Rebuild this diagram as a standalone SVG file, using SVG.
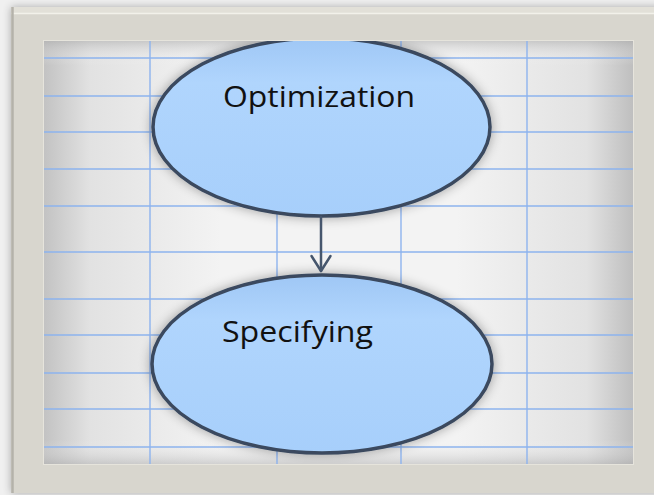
<svg xmlns="http://www.w3.org/2000/svg" width="654" height="495" viewBox="0 0 654 495">
  <style>
    .grid line { stroke: #8db3ee; stroke-width: 1.4; }
    .node ellipse { stroke: #3a495e; stroke-width: 3.5; fill: url(#nodeFill); filter: url(#halo); }
    .node text { font-family: "Open Sans", "Liberation Sans", sans-serif; font-size: 30px; fill: #111; }
    .conn { stroke: #46566d; stroke-width: 2.5; fill: none; stroke-linecap: round; stroke-linejoin: round; }
  </style>
  <defs>
    <linearGradient id="paperH" x1="0" y1="0" x2="1" y2="0">
      <stop offset="0" stop-color="#c2c2c2"/>
      <stop offset="0.08" stop-color="#e2e2e2"/>
      <stop offset="0.3" stop-color="#f3f3f3"/>
      <stop offset="0.7" stop-color="#f3f3f3"/>
      <stop offset="0.92" stop-color="#e2e2e2"/>
      <stop offset="1" stop-color="#bebebe"/>
    </linearGradient>
    <linearGradient id="paperV" x1="0" y1="0" x2="0" y2="1">
      <stop offset="0" stop-color="#a8a8a8" stop-opacity="0.55"/>
      <stop offset="0.06" stop-color="#ffffff" stop-opacity="0"/>
      <stop offset="0.94" stop-color="#ffffff" stop-opacity="0"/>
      <stop offset="1" stop-color="#a8a8a8" stop-opacity="0.5"/>
    </linearGradient>
    <linearGradient id="nodeFill" x1="0" y1="0" x2="0" y2="1">
      <stop offset="0" stop-color="#9fc7f5"/>
      <stop offset="0.25" stop-color="#b0d5fd"/>
      <stop offset="1" stop-color="#a7cffb"/>
    </linearGradient>
    <linearGradient id="outside" x1="0" y1="0" x2="1" y2="0">
      <stop offset="0" stop-color="#f2f2f2"/>
      <stop offset="1" stop-color="#dcdcdc"/>
    </linearGradient>
    <filter id="halo" x="-20%" y="-30%" width="140%" height="160%">
      <feGaussianBlur in="SourceAlpha" stdDeviation="6"/>
      <feComponentTransfer><feFuncA type="linear" slope="0.35"/></feComponentTransfer>
      <feMerge><feMergeNode/><feMergeNode in="SourceGraphic"/></feMerge>
    </filter>
    <filter id="frameShadow" x="-5%" y="-5%" width="110%" height="110%">
      <feGaussianBlur in="SourceAlpha" stdDeviation="4"/>
      <feComponentTransfer><feFuncA type="linear" slope="0.3"/></feComponentTransfer>
      <feMerge><feMergeNode/><feMergeNode in="SourceGraphic"/></feMerge>
    </filter>
    <clipPath id="paperClip"><rect x="43" y="40" width="591" height="425"/></clipPath>
  </defs>

  <!-- backdrop -->
  <rect x="0" y="0" width="654" height="495" fill="#f0f0f0"/>

  <!-- mat frame -->
  <g id="frame" filter="url(#frameShadow)">
    <rect x="11" y="7" width="650" height="486" fill="#d8d6ce"/>
    <rect x="11" y="7" width="650" height="6" fill="#e2e0d8"/>
    <line x1="11" y1="13.5" x2="654" y2="13.5" stroke="#f2f1ea" stroke-width="1.5"/>
    <line x1="12.5" y1="7" x2="12.5" y2="493" stroke="#b4b2aa" stroke-width="2.5"/>
  </g>

  <!-- paper with grid -->
  <g id="paper" clip-path="url(#paperClip)">
    <rect x="43" y="40" width="591" height="425" fill="url(#paperH)"/>
    <rect x="43" y="40" width="591" height="425" fill="url(#paperV)"/>
    <g class="grid">
      <line x1="43" y1="58" x2="634" y2="58"/>
      <line x1="43" y1="96" x2="634" y2="96"/>
      <line x1="43" y1="132" x2="634" y2="132"/>
      <line x1="43" y1="169" x2="634" y2="169"/>
      <line x1="43" y1="206" x2="634" y2="206"/>
      <line x1="43" y1="252" x2="634" y2="252"/>
      <line x1="43" y1="299" x2="634" y2="299"/>
      <line x1="43" y1="335" x2="634" y2="335"/>
      <line x1="43" y1="373" x2="634" y2="373"/>
      <line x1="43" y1="409" x2="634" y2="409"/>
      <line x1="43" y1="447" x2="634" y2="447"/>
      <line x1="150" y1="40" x2="150" y2="465"/>
      <line x1="277" y1="40" x2="277" y2="465"/>
      <line x1="401" y1="40" x2="401" y2="465"/>
      <line x1="527" y1="40" x2="527" y2="465"/>
    </g>

    <g id="node-optimization" class="node">
      <ellipse cx="321.5" cy="127" rx="168.5" ry="89"/>
      <text x="223" y="107" textLength="192" lengthAdjust="spacingAndGlyphs">Optimization</text>
    </g>

    <g id="node-specifying" class="node">
      <ellipse cx="322" cy="364" rx="170" ry="89"/>
      <text x="222" y="342" textLength="151" lengthAdjust="spacingAndGlyphs">Specifying</text>
    </g>

    <g id="connectors">
      <path class="conn" d="M321 217 V271"/>
      <path class="conn" d="M311.5 256 L321 271 L330.5 256"/>
    </g>
  </g>
  <rect x="43.5" y="40.5" width="590" height="424" fill="none" stroke="#e6e4dc" stroke-width="1"/>
</svg>
